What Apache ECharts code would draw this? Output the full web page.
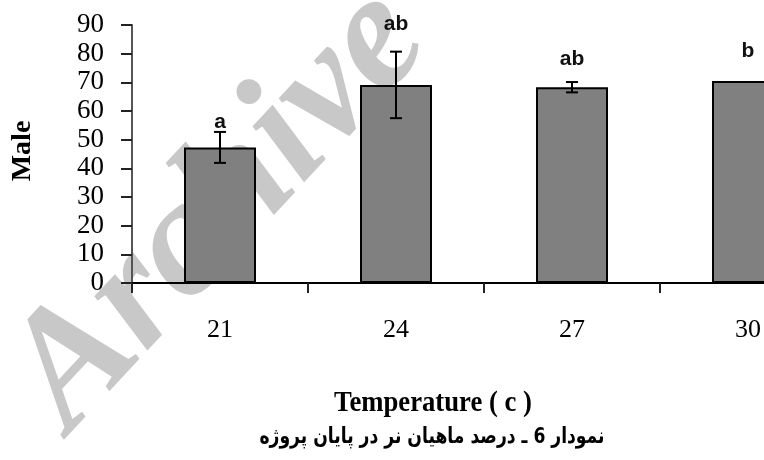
<!DOCTYPE html>
<html>
<head>
<meta charset="utf-8">
<script src="https://cdn.jsdelivr.net/npm/echarts@6/dist/echarts.min.js"></script>
<style>
  html, body { margin: 0; padding: 0; background: #ffffff; }
  #chart { width: 764px; height: 460px; }
</style>
</head>
<body>
<div id="chart"></div>
<script>
// Male percentage by rearing temperature (mean ± SE) with group letters
const categories = ['21', '24', '27', '30'];
const maleMean = [47.3, 69.1, 68.3, 70.5];
const maleErr = [5.4, 11.6, 1.8, 0];
const groupLetters = ['a', 'ab', 'ab', 'b'];
// height (axis units) at which each group letter is centred
const letterLevel = [56.2, 90.3, 78.1, 80.9];

const serif = '"Liberation Serif", "DejaVu Serif", serif';

const chart = echarts.init(document.getElementById('chart'), null, { renderer: 'canvas' });

chart.setOption({
  backgroundColor: '#ffffff',
  animation: false,
  grid: {
    left: 132, top: 25, width: 704, height: 258,
    containLabel: false, outerBoundsMode: 'none'
  },
  graphic: [
    {
      type: 'text', z: -10, silent: true,
      x: 220, y: 210, rotation: 0.82,
      style: {
        text: 'Archive', fill: '#c8c8c8',
        font: 'italic bold 165px ' + serif,
        align: 'center', verticalAlign: 'middle'
      }
    },
    {
      type: 'text', x: 23, y: 151, rotation: Math.PI / 2,
      style: {
        text: 'Male', fill: '#000',
        font: 'bold 28px ' + serif,
        align: 'center', verticalAlign: 'middle'
      }
    },
    {
      type: 'text', x: 433, y: 404, scaleX: 0.92,
      style: {
        text: 'Temperature ( c )', fill: '#000',
        font: 'bold 29px ' + serif,
        align: 'center', verticalAlign: 'middle'
      }
    },
    {
      type: 'text', x: 432, y: 437, scaleX: 0.78,
      style: {
        text: 'نمودار 6 ـ درصد ماهیان نر در پایان پروژه', fill: '#000',
        font: 'bold 22px "DejaVu Sans", sans-serif',
        align: 'center', verticalAlign: 'middle'
      }
    }
  ],
  xAxis: {
    type: 'category',
    data: categories,
    axisLine: { show: true, lineStyle: { color: '#000', width: 2 } },
    axisTick: { show: true, length: 10, lineStyle: { color: '#222', width: 2 } },
    axisLabel: {
      margin: 34, color: '#000',
      fontFamily: serif, fontSize: 26, verticalAlign: 'top'
    },
    splitLine: { show: false }
  },
  yAxis: {
    type: 'value',
    min: 0, max: 90, interval: 10,
    axisLine: { show: true, lineStyle: { color: '#555', width: 2 } },
    axisTick: { show: true, length: 11, lineStyle: { color: '#222', width: 2 } },
    axisLabel: {
      margin: 28, color: '#000',
      fontFamily: serif, fontSize: 27
    },
    splitLine: { show: false }
  },
  series: [
    {
      type: 'bar',
      data: maleMean,
      barWidth: 72,
      itemStyle: { color: '#808080', borderColor: '#000', borderWidth: 2 },
      z: 2
    },
    {
      // error bars
      type: 'custom',
      z: 3,
      clip: false,
      data: maleMean.map((m, i) => [i, m, maleErr[i]]),
      renderItem: function (params, api) {
        const i = api.value(0), m = api.value(1), e = api.value(2);
        if (!e) return null;
        const top = api.coord([i, m + e]);
        const bot = api.coord([i, m - e]);
        const half = 6;
        const st = { stroke: '#000', lineWidth: 2 };
        return {
          type: 'group',
          children: [
            { type: 'line', shape: { x1: top[0], y1: top[1], x2: bot[0], y2: bot[1] }, style: st },
            { type: 'line', shape: { x1: top[0] - half, y1: top[1], x2: top[0] + half, y2: top[1] }, style: st },
            { type: 'line', shape: { x1: bot[0] - half, y1: bot[1], x2: bot[0] + half, y2: bot[1] }, style: st }
          ]
        };
      }
    },
    {
      // group letters
      type: 'custom',
      z: 4,
      clip: false,
      data: letterLevel.map((v, i) => [i, v]),
      renderItem: function (params, api) {
        const p = api.coord([api.value(0), api.value(1)]);
        return {
          type: 'text',
          x: p[0], y: p[1],
          style: {
            text: groupLetters[params.dataIndex], fill: '#111',
            font: 'bold 21px "Liberation Sans", Arial, sans-serif',
            align: 'center', verticalAlign: 'middle'
          }
        };
      }
    }
  ]
});
</script>
</body>
</html>
